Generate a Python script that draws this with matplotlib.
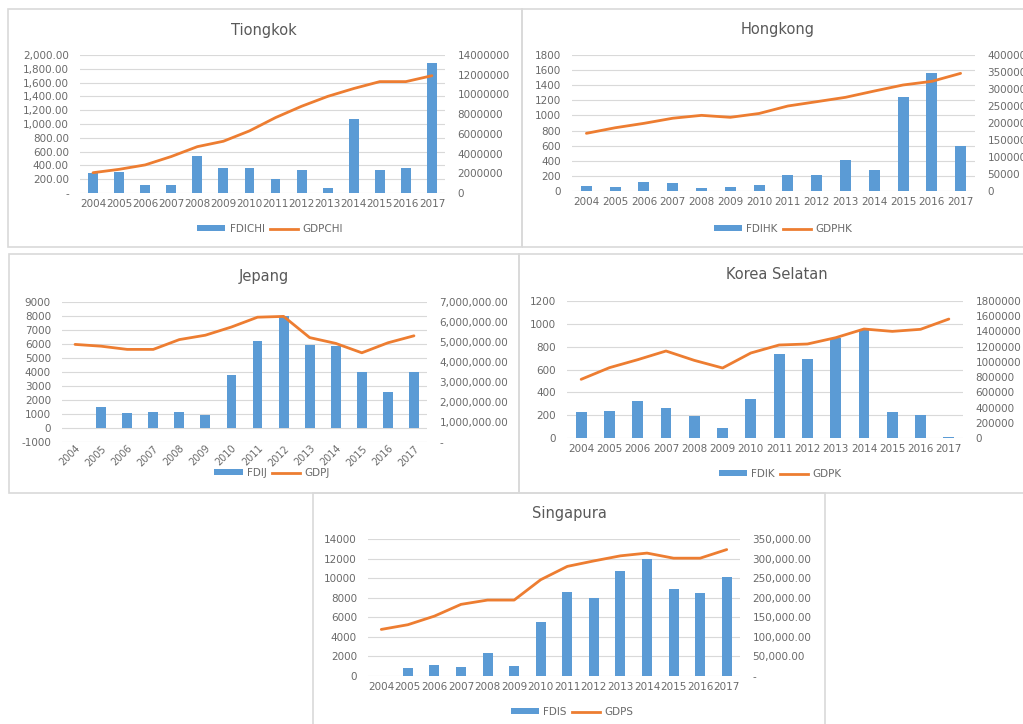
import matplotlib
matplotlib.use("Agg")
import matplotlib.pyplot as plt
from matplotlib.patches import Rectangle, Patch
from matplotlib.lines import Line2D
from matplotlib.ticker import FuncFormatter, MultipleLocator

# ---------------- data ----------------
years = [str(y) for y in range(2004, 2018)]

fdi_chi = [290, 300, 120, 120, 540, 360, 360, 210, 330, 70, 1070, 330, 360, 1890]
gdp_chi = [2.06e6, 2.4e6, 2.85e6, 3.7e6, 4.7e6, 5.25e6, 6.3e6, 7.65e6, 8.8e6,
           9.8e6, 10.6e6, 11.3e6, 11.3e6, 11.9e6]

fdi_hk = [66, 49, 124, 106, 35, 49, 80, 212, 212, 415, 282, 1244, 1566, 596]
gdp_hk = [169600, 186000, 199000, 214000, 222500, 216700, 228000, 250000,
          262700, 275500, 294000, 311800, 322500, 346000]

fdi_j = [0, 1500, 1040, 1140, 1140, 925, 3800, 6200, 8000, 5900, 5830, 4030, 2560, 4030]
gdp_j = [4.88e6, 4.79e6, 4.63e6, 4.63e6, 5.12e6, 5.34e6, 5.75e6, 6.24e6, 6.28e6,
         5.22e6, 4.93e6, 4.46e6, 4.96e6, 5.31e6]

fdi_k = [230, 240, 320, 262, 195, 85, 345, 732, 695, 875, 945, 232, 205, 10]
gdp_k = [770800, 924000, 1029000, 1143000, 1020000, 920000, 1117000, 1222000,
         1235000, 1318000, 1432000, 1401000, 1428000, 1563000]

fdi_s = [0, 800, 1100, 900, 2300, 1000, 5500, 8600, 8000, 10700, 12000, 8900, 8450, 10100]
gdp_s = [119000, 131000, 153000, 183000, 194000, 194000, 246000, 280000,
         294000, 307000, 314000, 301000, 301000, 323000]

# ---------------- style ----------------
BLUE = "#5B9BD5"
ORANGE = "#ED7D31"
TXT = "#6a6a6a"
GRID = "#d9d9d9"
FS = 7.5

plt.rcParams["font.family"] = ["DejaVu Sans"]

W, H = 1023, 724
fig = plt.figure(figsize=(W / 100, H / 100), dpi=100)


def fpos(x0, y0, x1, y1):
    return [x0 / W, 1 - y1 / H, (x1 - x0) / W, (y1 - y0) / H]


def fpt(x, y):
    return (x / W, 1 - y / H)


def frame(x0, y0, x1, y1):
    fig.add_artist(Rectangle((x0 / W, 1 - y1 / H), (x1 - x0) / W, (y1 - y0) / H,
                             transform=fig.transFigure, fill=False,
                             ec=GRID, lw=1.2))


def plain(v, pos):
    return f"{v:.0f}"


def money(v, pos):
    return "-" if abs(v) < 1e-9 else f"{v:,.2f}"


def panel(box, title, title_xy, legend_xy, fdi, gdp, names,
          lim_l, step_l, lim_r, step_r, fmt_l, fmt_r, rotate=False):
    ax = fig.add_axes(fpos(*box))
    x = list(range(len(years)))
    ax.bar(x, fdi, width=0.38, color=BLUE, zorder=2)
    ax.set_xlim(-0.5, len(years) - 0.5)
    ax.set_ylim(*lim_l)
    ax.yaxis.set_major_locator(MultipleLocator(step_l))
    ax.yaxis.set_major_formatter(FuncFormatter(fmt_l))
    ax.grid(axis="y", color=GRID, lw=0.8)
    ax.set_axisbelow(True)
    for s in ax.spines.values():
        s.set_visible(False)
    ax.set_xticks(x)
    ax.tick_params(axis="both", length=0, labelsize=FS, labelcolor=TXT)
    if rotate:
        ax.set_xticklabels(years, rotation=45, ha="right", va="top",
                           rotation_mode="anchor", fontsize=7)
        ax.tick_params(axis="x", pad=1)
    else:
        ax.set_xticklabels(years)
        ax.tick_params(axis="x", pad=4)
    ax.tick_params(axis="y", pad=8)

    ax2 = ax.twinx()
    ax2.plot(x, gdp, color=ORANGE, lw=2.0, solid_capstyle="round",
             solid_joinstyle="round", zorder=3)
    ax2.set_ylim(*lim_r)
    ax2.yaxis.set_major_locator(MultipleLocator(step_r))
    ax2.yaxis.set_major_formatter(FuncFormatter(fmt_r))
    for s in ax2.spines.values():
        s.set_visible(False)
    ax2.tick_params(axis="y", length=0, labelsize=FS, labelcolor=TXT, pad=9)

    fig.text(*fpt(*title_xy), title, ha="center", va="baseline",
             fontsize=10.5, color="#595959")

    handles = [Patch(facecolor=BLUE, edgecolor="none"),
               Line2D([], [], color=ORANGE, lw=2.0)]
    fig.legend(handles, names, loc="center", ncol=2, frameon=False,
               bbox_to_anchor=fpt(*legend_xy), bbox_transform=fig.transFigure,
               fontsize=FS, labelcolor=TXT, handlelength=2.7, handleheight=0.55,
               handletextpad=0.4, columnspacing=0.5, borderpad=0)
    return ax, ax2


# panel frames
frame(8, 9, 522, 247)
frame(522, 9, 1030, 247)
frame(9, 254, 519, 493)
frame(519, 254, 1030, 493)
frame(313, 493, 825, 730)

panel((80, 55, 445, 193), "Tiongkok", (264, 35), (270, 229),
      fdi_chi, gdp_chi, ["FDICHI", "GDPCHI"],
      (0, 2000), 200, (0, 14e6), 2e6, money, plain)

panel((572, 55, 975, 191), "Hongkong", (778, 34), (783, 229),
      fdi_hk, gdp_hk, ["FDIHK", "GDPHK"],
      (0, 1800), 200, (0, 400000), 50000, plain, plain)

panel((62, 302, 427, 442), "Jepang", (264, 281), (272, 473),
      fdi_j, gdp_j, ["FDIJ", "GDPJ"],
      (-1000, 9000), 1000, (0, 7e6), 1e6, plain, money, rotate=True)

panel((567, 301, 963, 438), "Korea Selatan", (777, 279), (780, 474),
      fdi_k, gdp_k, ["FDIK", "GDPK"],
      (0, 1200), 200, (0, 1.8e6), 200000, plain, plain)

panel((368, 539, 740, 676), "Singapura", (569, 518), (572, 712),
      fdi_s, gdp_s, ["FDIS", "GDPS"],
      (0, 14000), 2000, (0, 350000), 50000, plain, money)

fig.savefig("out.png", dpi=100, facecolor="white")
